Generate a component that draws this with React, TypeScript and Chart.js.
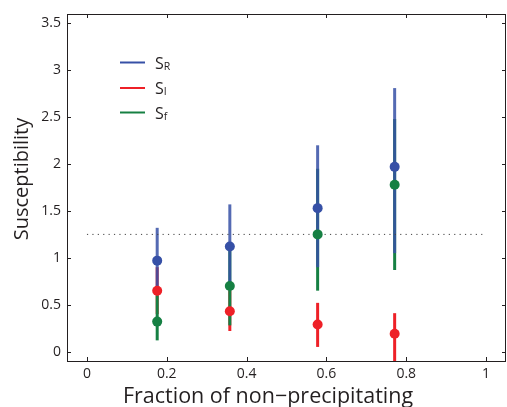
import React, { useEffect, useRef } from "react";
import { Chart, registerables } from "chart.js";

Chart.register(...registerables);

const xTicks = [0, 0.2, 0.4, 0.6, 0.8, 1];
const yTicks = [0, 0.5, 1, 1.5, 2, 2.5, 3, 3.5];
const fraction = [0.176, 0.358, 0.578, 0.771];

const sR = [0.97, 1.12, 1.53, 1.97];
const sRLow = [0.63, 0.67, 0.9, 1.05];
const sRHigh = [1.32, 1.57, 2.2, 2.81];

const sI = [0.65, 0.43, 0.29, 0.19];
const sILow = [0.4, 0.22, 0.05, -0.12];
const sIHigh = [0.9, 0.65, 0.52, 0.41];

const sF = [0.32, 0.7, 1.25, 1.78];
const sFLow = [0.12, 0.28, 0.65, 0.87];
const sFHigh = [0.6, 1.1, 1.95, 2.48];

const threshold = 1.25;
const thresholdRange = [0, 1];

const legendLabels = [
  { main: "S", sub: "R" },
  { main: "S", sub: "I" },
  { main: "S", sub: "f" },
];

const BLUE = "#3650a6";
const BLUE_BAR = "rgba(54,80,166,0.85)";
const RED = "#ee2027";
const GREEN = "#168043";
const FONT = "'Open Sans', 'Noto Sans', sans-serif";
const TEXT = "#231f20";

const series = [
  { name: "SR", vals: sR, lo: sRLow, hi: sRHigh, color: BLUE, bar: BLUE_BAR },
  { name: "SI", vals: sI, lo: sILow, hi: sIHigh, color: RED, bar: RED },
  { name: "Sf", vals: sF, lo: sFLow, hi: sFHigh, color: GREEN, bar: GREEN },
];

const errorBarPlugin = {
  id: "errorBars",
  beforeDatasetsDraw(chart: any) {
    const { ctx, chartArea, scales } = chart;
    ctx.save();
    ctx.beginPath();
    ctx.rect(chartArea.left, chartArea.top, chartArea.right - chartArea.left, chartArea.bottom - chartArea.top);
    ctx.clip();
    ctx.lineWidth = 3;
    ctx.lineCap = "butt";
    const drawOrder = [1, 2, 0];
    for (const si of drawOrder) {
      const s = series[si];
      ctx.strokeStyle = s.bar;
      for (let i = 0; i < fraction.length; i++) {
        const x = scales.x.getPixelForValue(fraction[i]);
        ctx.beginPath();
        ctx.moveTo(x, scales.y.getPixelForValue(s.lo[i]));
        ctx.lineTo(x, scales.y.getPixelForValue(s.hi[i]));
        ctx.stroke();
      }
    }
    ctx.restore();
  },
};

const framePlugin = {
  id: "frame",
  afterDraw(chart: any) {
    const { ctx, chartArea, scales } = chart;
    const { left, right, top, bottom } = chartArea;
    ctx.save();
    ctx.strokeStyle = "#231f20";
    ctx.lineWidth = 1;
    ctx.strokeRect(Math.round(left) + 0.5, Math.round(top) + 0.5, Math.round(right - left) - 1, Math.round(bottom - top));
    const tl = 4;
    ctx.beginPath();
    for (const v of xTicks) {
      const x = Math.round(scales.x.getPixelForValue(v)) + 0.5;
      ctx.moveTo(x, bottom);
      ctx.lineTo(x, bottom - tl);
      ctx.moveTo(x, top);
      ctx.lineTo(x, top + tl);
    }
    for (const v of yTicks) {
      const y = Math.round(scales.y.getPixelForValue(v)) + 0.5;
      ctx.moveTo(left, y);
      ctx.lineTo(left + tl, y);
      ctx.moveTo(right, y);
      ctx.lineTo(right - tl, y);
    }
    ctx.stroke();

    // legend
    const lx = 120;
    const rows = [62.5, 88, 112.5];
    const colors = [BLUE, RED, GREEN];
    for (let i = 0; i < legendLabels.length; i++) {
      ctx.strokeStyle = colors[i];
      ctx.lineWidth = 2;
      ctx.beginPath();
      ctx.moveTo(lx, rows[i]);
      ctx.lineTo(lx + 25, rows[i]);
      ctx.stroke();
      ctx.fillStyle = TEXT;
      ctx.textBaseline = "alphabetic";
      ctx.textAlign = "left";
      ctx.font = `16px ${FONT}`;
      ctx.fillText(legendLabels[i].main, lx + 35, rows[i] + 6);
      const w = ctx.measureText(legendLabels[i].main).width;
      ctx.font = `10.5px ${FONT}`;
      ctx.fillText(legendLabels[i].sub, lx + 35 + w, rows[i] + 7);
    }

    // axis titles
    ctx.fillStyle = TEXT;
    ctx.font = `21.5px ${FONT}`;
    ctx.textAlign = "center";
    ctx.textBaseline = "alphabetic";
    ctx.fillText("Fraction of non\u2212precipitating", 268, 403);
    ctx.save();
    ctx.translate(28, 179);
    ctx.rotate(-Math.PI / 2);
    ctx.font = `20px ${FONT}`;
    ctx.fillText("Susceptibility", 0, 0);
    ctx.restore();
    ctx.restore();
  },
};

export default function App() {
  const ref = useRef<HTMLCanvasElement | null>(null);
  useEffect(() => {
    document.body.style.margin = "0";
    const canvas = ref.current;
    if (!canvas) return;
    const pts = (vals: number[]) => fraction.map((x, i) => ({ x, y: vals[i] }));
    const chart = new Chart(canvas, {
      type: "scatter",
      data: {
        datasets: [
          { label: "SR", data: pts(sR), backgroundColor: BLUE, borderWidth: 0, pointRadius: 5, pointHoverRadius: 5 },
          { label: "Sf", data: pts(sF), backgroundColor: GREEN, borderWidth: 0, pointRadius: 5, pointHoverRadius: 5 },
          { label: "SI", data: pts(sI), backgroundColor: RED, borderWidth: 0, pointRadius: 5, pointHoverRadius: 5 },
          {
            type: "line",
            label: "threshold",
            data: thresholdRange.map((x) => ({ x, y: threshold })),
            borderColor: "#444",
            borderWidth: 1,
            borderDash: [1.2, 4.2],
            pointRadius: 0,
            fill: false,
          } as any,
        ],
      },
      options: {
        responsive: false,
        animation: false,
        events: [],
        layout: { autoPadding: false, padding: { top: 14, right: 1, left: 0, bottom: 0 } },
        plugins: { legend: { display: false }, tooltip: { enabled: false } },
        scales: {
          x: {
            type: "linear",
            min: -0.05,
            max: 1.05,
            grid: { display: false, drawTicks: false },
            border: { display: false },
            afterBuildTicks: (s: any) => {
              s.ticks = xTicks.map((v) => ({ value: v }));
            },
            afterFit: (s: any) => {
              s.height = 46;
              s.paddingLeft = 0;
              s.paddingRight = 0;
            },
            ticks: {
              autoSkip: false,
              maxRotation: 0,
              padding: 5,
              color: TEXT,
              font: { family: FONT, size: 14 },
              callback: (v: any) => String(v),
            },
          },
          y: {
            type: "linear",
            min: -0.1,
            max: 3.6,
            grid: { display: false, drawTicks: false },
            border: { display: false },
            afterBuildTicks: (s: any) => {
              s.ticks = yTicks.map((v) => ({ value: v }));
            },
            afterFit: (s: any) => {
              s.width = 67;
              s.paddingTop = 0;
              s.paddingBottom = 0;
            },
            ticks: {
              autoSkip: false,
              padding: 6,
              color: TEXT,
              font: { family: FONT, size: 14 },
              callback: (v: any) => String(v),
            },
          },
        },
      },
      plugins: [errorBarPlugin, framePlugin],
    });
    return () => chart.destroy();
  }, []);
  return <canvas ref={ref} width={507} height={407} style={{ display: "block", width: 507, height: 407 }} />;
}
